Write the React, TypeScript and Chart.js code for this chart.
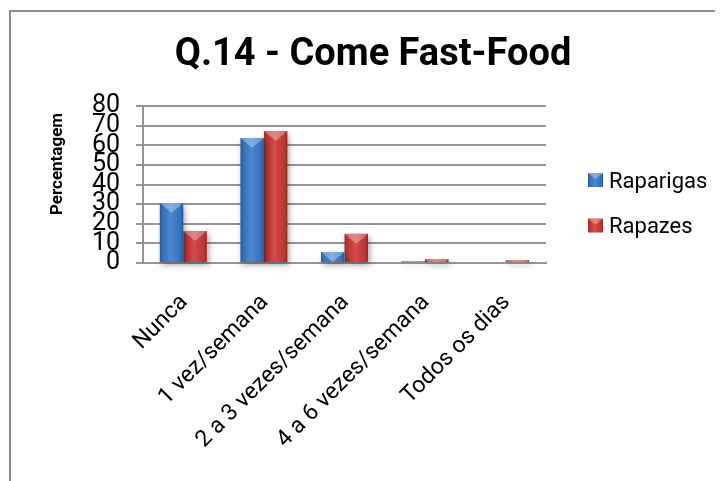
import { useEffect, useRef } from "react";
import { Chart, registerables } from "chart.js";

Chart.register(...registerables);

const titleText = "Q.14 - Come Fast-Food";
const yAxisTitle = "Percentagem";
const categories = ["Nunca", "1 vez/semana", "2 a 3 vezes/semana", "4 a 6 vezes/semana", "Todos os dias"];
const seriesNames = ["Raparigas", "Rapazes"];
const raparigas = [30.6, 63.7, 5.6, 1.0, 0];
const rapazes = [16.3, 67.3, 14.9, 2.0, 1.5];
const yMin = 0;
const yMax = 80;
const yStep = 10;

const BLUE = "#3a7bcc";
const RED = "#cf3a3a";
const GRID = "#959595";
const FONT = "Roboto";

// Bevelled face: darker side edges, lighter pyramid cap on top.
function drawBevel(ctx: CanvasRenderingContext2D, left: number, top: number, w: number, h: number) {
  if (h < 0.5 || w < 0.5) return;
  ctx.save();
  ctx.beginPath();
  ctx.rect(left, top, w, h);
  ctx.clip();
  const g = ctx.createLinearGradient(left, 0, left + w, 0);
  g.addColorStop(0, "rgba(0,0,0,0.28)");
  g.addColorStop(0.15, "rgba(0,0,0,0.06)");
  g.addColorStop(0.45, "rgba(255,255,255,0.10)");
  g.addColorStop(0.85, "rgba(0,0,0,0.06)");
  g.addColorStop(1, "rgba(0,0,0,0.30)");
  ctx.fillStyle = g;
  ctx.fillRect(left, top, w, h);
  ctx.beginPath();
  ctx.moveTo(left, top);
  ctx.lineTo(left + w, top);
  ctx.lineTo(left + w / 2, top + w * 0.42);
  ctx.closePath();
  ctx.fillStyle = "rgba(255,255,255,0.32)";
  ctx.fill();
  ctx.restore();
}

const decorPlugin = {
  id: "decor",
  beforeDatasetsDraw(chart: any) {
    const ctx = chart.ctx;
    ctx.save();
    ctx.shadowColor = "rgba(0,0,0,0.35)";
    ctx.shadowBlur = 6;
    ctx.shadowOffsetX = 2;
    ctx.shadowOffsetY = 3;
  },
  afterDatasetsDraw(chart: any) {
    const ctx = chart.ctx;
    ctx.restore();
    chart.data.datasets.forEach((_: any, i: number) => {
      const meta = chart.getDatasetMeta(i);
      meta.data.forEach((el: any) => {
        const { x, y, base, width } = el.getProps(["x", "y", "base", "width"], true);
        const top = Math.min(y, base);
        drawBevel(ctx, x - width / 2, top, width, Math.abs(base - y));
      });
    });
  },
  afterDraw(chart: any) {
    const ctx = chart.ctx;
    const area = chart.chartArea;
    ctx.save();
    ctx.fillStyle = "#000";

    // title
    ctx.font = `bold 38px ${FONT}`;
    ctx.textAlign = "center";
    ctx.textBaseline = "alphabetic";
    ctx.fillText(titleText, 362, 53);

    // vertical axis title
    ctx.save();
    ctx.translate(area.left - 85, area.top + 58);
    ctx.rotate(-Math.PI / 2);
    ctx.font = `bold 17px ${FONT}`;
    ctx.textAlign = "center";
    ctx.textBaseline = "middle";
    ctx.fillText(yAxisTitle, 0, 0);
    ctx.restore();

    // legend
    const lx = area.right + 42;
    const ly = area.top + 74;
    chart.data.datasets.forEach((ds: any, i: number) => {
      const cy = ly + i * 45.5;
      ctx.fillStyle = ds.backgroundColor;
      ctx.fillRect(lx, cy - 7, 15, 14);
      drawBevel(ctx, lx, cy - 7, 15, 14);
      ctx.fillStyle = "#000";
      ctx.font = `22px ${FONT}`;
      ctx.textAlign = "left";
      ctx.textBaseline = "middle";
      ctx.fillText(ds.label, lx + 21, cy + 2);
    });
    ctx.restore();
  },
};

export default function App() {
  const ref = useRef<HTMLCanvasElement | null>(null);

  useEffect(() => {
    document.documentElement.style.overflow = "hidden";
    document.body.style.overflow = "hidden";
    const canvas = ref.current;
    if (!canvas) return;
    const chart = new Chart(canvas, {
      type: "bar",
      data: {
        labels: categories,
        datasets: [
          { label: seriesNames[0], data: raparigas, backgroundColor: BLUE, clip: false as any },
          { label: seriesNames[1], data: rapazes, backgroundColor: RED, clip: false as any },
        ],
      },
      options: {
        responsive: false,
        animation: false,
        devicePixelRatio: 1,
        layout: { padding: { left: 62, top: 94, right: 177, bottom: 0 } },
        datasets: { bar: { categoryPercentage: 0.583, barPercentage: 1 } },
        plugins: {
          legend: { display: false },
          title: { display: false },
          tooltip: { enabled: false },
        },
        scales: {
          x: {
            grid: { display: false, drawTicks: false },
            border: { display: true, color: GRID, width: 2 },
            ticks: {
              minRotation: 45,
              maxRotation: 45,
              autoSkip: false,
              padding: 26,
              labelOffset: 1,
              color: "#000",
              font: { family: FONT, size: 23 },
            },
            afterFit: (s: any) => {
              s.height = 218;
            },
          },
          y: {
            min: yMin,
            max: yMax,
            grid: { color: GRID, lineWidth: 2, tickLength: 7, drawTicks: true },
            border: { display: true, color: GRID, width: 2 },
            ticks: {
              stepSize: yStep,
              autoSkip: false,
              padding: 16,
              color: "#000",
              font: { family: FONT, size: 25 },
            },
            afterFit: (s: any) => {
              s.width = 70;
            },
          },
        },
      },
      plugins: [decorPlugin],
    });
    return () => chart.destroy();
  }, []);

  return (
    <div style={{ paddingTop: 2, paddingLeft: 1 }}>
      <div style={{ borderTop: "2px solid #8c8c8c", borderLeft: "2px solid #8c8c8c", width: 712, height: 469 }}>
        <canvas ref={ref} width={712} height={469} style={{ display: "block", width: 712, height: 469 }} />
      </div>
    </div>
  );
}
